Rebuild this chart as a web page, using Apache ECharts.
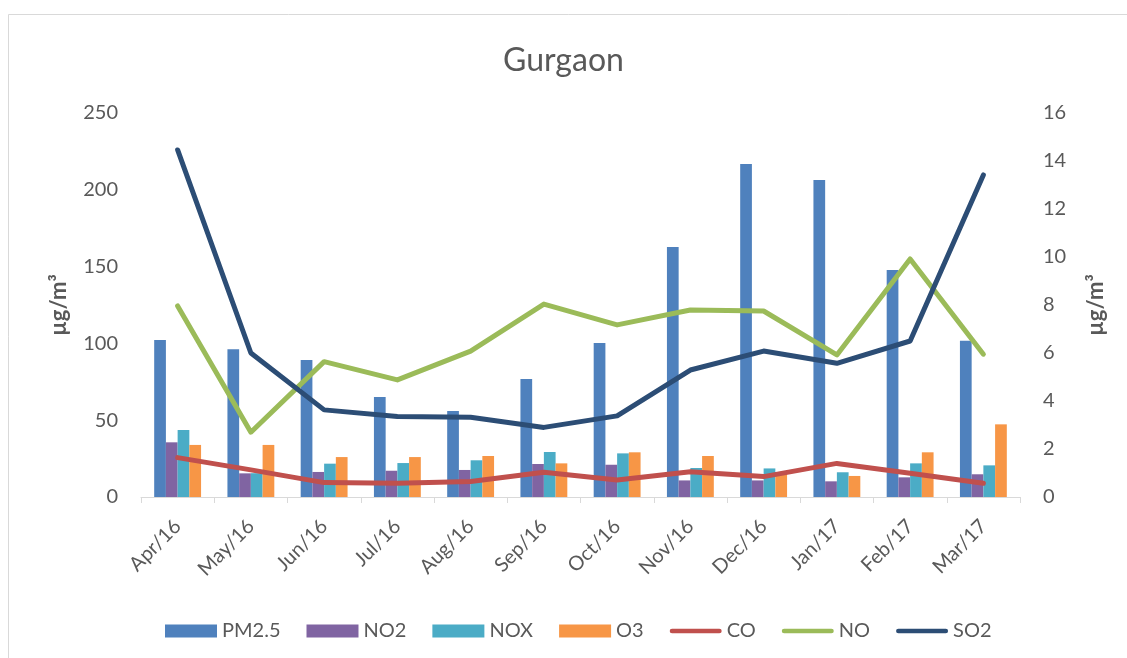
<!DOCTYPE html>
<html>
<head>
<meta charset="utf-8">
<script src="https://cdn.jsdelivr.net/npm/echarts@6/dist/echarts.min.js"></script>
<style>
html,body{margin:0;padding:0;background:#fff;}
#chart{width:1127px;height:658px;}
</style>
</head>
<body>
<div id="chart"></div>
<script>
const categories = ['Apr/16','May/16','Jun/16','Jul/16','Aug/16','Sep/16','Oct/16','Nov/16','Dec/16','Jan/17','Feb/17','Mar/17'];
const pm25 = [102.2, 96.2, 89.2, 65.1, 56.0, 76.8, 100.3, 162.8, 216.8, 206.4, 147.8, 101.8];
const no2  = [35.6, 15.4, 16.3, 17.1, 17.6, 21.5, 21.0, 10.8, 10.8, 10.2, 12.8, 14.8];
const nox  = [43.6, 15.5, 21.7, 22.1, 23.9, 29.3, 28.4, 18.9, 18.6, 16.1, 21.9, 20.6];
const o3   = [33.9, 33.9, 26.0, 26.0, 26.7, 21.9, 29.1, 26.7, 15.0, 13.7, 29.1, 47.3];
const co   = [1.64, 1.13, 0.60, 0.57, 0.65, 1.03, 0.71, 1.05, 0.85, 1.40, 0.99, 0.57];
const no   = [7.96, 2.70, 5.64, 4.88, 6.08, 8.04, 7.17, 7.79, 7.75, 5.92, 9.92, 5.95];
const so2  = [14.46, 6.00, 3.63, 3.35, 3.32, 2.90, 3.38, 5.29, 6.08, 5.57, 6.50, 13.42];
const leftTicks = {min: 0, max: 250, interval: 50};
const rightTicks = {min: 0, max: 16, interval: 2};

const FONT = "Lato, 'Liberation Sans', sans-serif";
const TXT = '#595959';
const LINE_ICON = 'path://M2.5,0 L53.5,0 A2.5,2.5 0 0 1 53.5,5 L2.5,5 A2.5,2.5 0 0 1 2.5,0 Z';
const chart = echarts.init(document.getElementById('chart'));

function bar(name, data, color) {
  return {name, type: 'bar', data, yAxisIndex: 0, barGap: '0%', barCategoryGap: '36%',
    itemStyle: {color}};
}
function line(name, data, color) {
  return {name, type: 'line', data, yAxisIndex: 1, symbol: 'none',
    lineStyle: {color, width: 5, cap: 'round', join: 'round'}, itemStyle: {color}};
}

chart.setOption({
  animation: false,
  backgroundColor: '#fff',
  textStyle: {fontFamily: FONT},
  graphic: [{type: 'rect', shape: {x: 8.5, y: 14.5, width: 1200, height: 700},
    style: {fill: 'none', stroke: '#d9d9d9', lineWidth: 1}, silent: true, z: -1}],
  title: {text: 'Gurgaon', left: 'center', top: 40,
    textStyle: {fontFamily: FONT, fontSize: 32, fontWeight: 'normal', color: TXT}},
  grid: {left: 141, right: 107, top: 113, bottom: 161},
  legend: {top: 621, left: 165, padding: 0, itemWidth: 52, itemHeight: 13, itemGap: 26,
    textStyle: {fontFamily: FONT, fontSize: 20, color: TXT},
    data: [
      {name: 'PM2.5', icon: 'rect'}, {name: 'NO2', icon: 'rect'}, {name: 'NOX', icon: 'rect'}, {name: 'O3', icon: 'rect'},
      {name: 'CO', icon: LINE_ICON}, {name: 'NO', icon: LINE_ICON}, {name: 'SO2', icon: LINE_ICON}]},
  xAxis: {type: 'category', data: categories, boundaryGap: true,
    axisLine: {lineStyle: {color: '#d9d9d9', width: 1}},
    axisTick: {show: true, length: 6, lineStyle: {color: '#d9d9d9'}},
    axisLabel: {rotate: 45, fontSize: 20, color: TXT, fontFamily: FONT, margin: 26}},
  yAxis: [
    {type: 'value', min: leftTicks.min, max: leftTicks.max, interval: leftTicks.interval,
      name: 'µg/m³', nameLocation: 'middle', nameGap: 71, nameRotate: 90,
      nameTextStyle: {fontFamily: FONT, fontSize: 22, fontWeight: 'bold', color: TXT},
      axisLine: {show: false}, axisTick: {show: false}, splitLine: {show: false},
      axisLabel: {fontSize: 20, color: TXT, fontFamily: FONT, margin: 23}},
    {type: 'value', min: rightTicks.min, max: rightTicks.max, interval: rightTicks.interval,
      name: 'µg/m³', nameLocation: 'middle', nameGap: 65, nameRotate: 90,
      nameTextStyle: {fontFamily: FONT, fontSize: 22, fontWeight: 'bold', color: TXT},
      axisLine: {show: false}, axisTick: {show: false}, splitLine: {show: false},
      axisLabel: {fontSize: 20, color: TXT, fontFamily: FONT, margin: 23}}
  ],
  series: [
    bar('PM2.5', pm25, '#4f81bd'),
    bar('NO2', no2, '#8064a2'),
    bar('NOX', nox, '#4bacc6'),
    bar('O3', o3, '#f79646'),
    line('CO', co, '#c0504d'),
    line('NO', no, '#9bbb59'),
    line('SO2', so2, '#2c4d75')
  ]
});
</script>
</body>
</html>
